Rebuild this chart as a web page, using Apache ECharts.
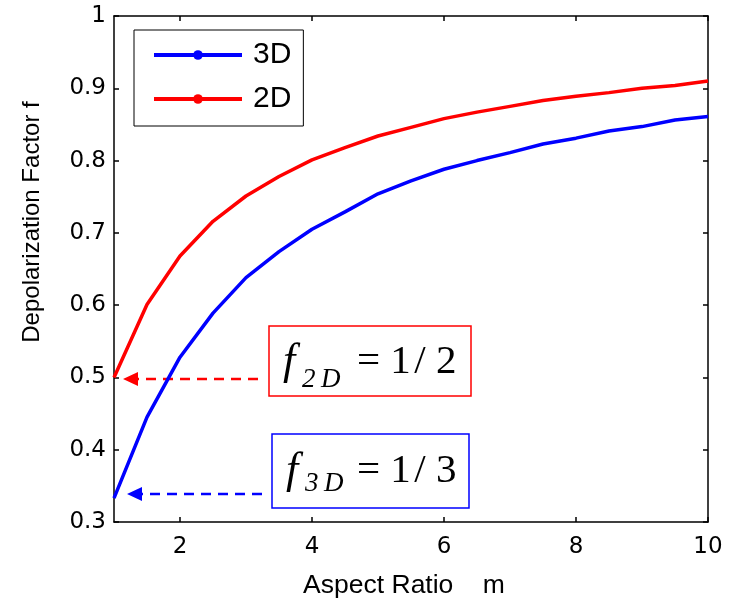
<!DOCTYPE html>
<html>
<head>
<meta charset="utf-8">
<script src="https://cdn.jsdelivr.net/npm/echarts@6/dist/echarts.min.js"></script>
<style>
  html, body { margin: 0; padding: 0; background: #fff; }
  #chart { width: 732px; height: 604px; }
</style>
</head>
<body>
<div id="chart"></div>
<script>
// Aspect ratio samples m and the depolarization factor f for each geometry
const aspectRatio = [1, 1.5, 2, 2.5, 3, 3.5, 4, 4.5, 5, 5.5, 6, 6.5, 7, 7.5, 8, 8.5, 9, 9.5, 10];
const factor3D = [0.333, 0.445, 0.528, 0.589, 0.638, 0.674, 0.705, 0.729, 0.754, 0.772,
                  0.788, 0.800, 0.811, 0.823, 0.831, 0.841, 0.847, 0.856, 0.861];
const factor2D = [0.500, 0.601, 0.668, 0.716, 0.751, 0.778, 0.801, 0.818, 0.834, 0.846,
                  0.858, 0.867, 0.875, 0.883, 0.889, 0.894, 0.900, 0.904, 0.910];
const seriesNames = ['3D', '2D'];
const xTickValues = [2, 4, 6, 8, 10];
const yTickValues = [0.3, 0.4, 0.5, 0.6, 0.7, 0.8, 0.9, 1];
const xAxisTitle = 'Aspect Ratio    m';
const yAxisTitle = 'Depolarization Factor f';

const BLUE = '#0000ff';
const RED = '#ff0000';
const AXIS_COLOR = '#000';

function pairs(xs, ys) { return xs.map((x, i) => [x, ys[i]]); }

const boxLine = { show: true, onZero: false, lineStyle: { color: AXIS_COLOR, width: 1.5 } };
const xTick = { show: true, inside: true, length: 5, customValues: xTickValues, lineStyle: { color: AXIS_COLOR, width: 1.5 } };
const yTick = { show: true, inside: true, length: 5, customValues: yTickValues, lineStyle: { color: AXIS_COLOR, width: 1.5 } };
const tickFont = { color: '#000', fontFamily: 'DejaVu Sans', fontSize: 23 };
const mathFont = 'Liberation Serif';

const chart = echarts.init(document.getElementById('chart'), null, { renderer: 'canvas' });

chart.setOption({
  backgroundColor: '#fff',
  animation: false,
  grid: { left: 114, right: 24, top: 16, bottom: 78, containLabel: false },
  legend: {
    orient: 'vertical',
    left: 134,
    top: 30,
    padding: [10, 12, 12, 18],
    itemGap: 14,
    itemWidth: 88,
    itemHeight: 12,
    borderColor: '#000',
    borderWidth: 1,
    backgroundColor: '#fff',
    lineStyle: { width: 4 },
    textStyle: { color: '#000', fontFamily: 'Liberation Sans', fontSize: 30, padding: [0, 0, 0, 6] },
    data: seriesNames
  },
  xAxis: [
    {
      type: 'value', min: 1, max: 10, position: 'bottom',
      axisLine: boxLine, axisTick: xTick,
      axisLabel: Object.assign({ customValues: xTickValues, margin: 14 }, tickFont),
      splitLine: { show: false },
      name: xAxisTitle, nameLocation: 'middle', nameGap: 50,
      nameTextStyle: { color: '#000', fontFamily: 'Liberation Sans', fontSize: 26.5, padding: [0, 14, 0, 0] }
    },
    {
      type: 'value', min: 1, max: 10, position: 'top',
      axisLine: boxLine, axisTick: xTick,
      axisLabel: { show: false }, splitLine: { show: false }
    }
  ],
  yAxis: [
    {
      type: 'value', min: 0.3, max: 1, interval: 0.1, position: 'left',
      axisLine: boxLine, axisTick: yTick,
      axisLabel: Object.assign({ customValues: yTickValues, margin: 8 }, tickFont),
      splitLine: { show: false },
      name: yAxisTitle, nameLocation: 'middle', nameGap: 70,
      nameTextStyle: { color: '#000', fontFamily: 'Liberation Sans', fontSize: 24, padding: [0, 0, 0, 94] }
    },
    {
      type: 'value', min: 0.3, max: 1, interval: 0.1, position: 'right',
      axisLine: boxLine, axisTick: yTick,
      axisLabel: { show: false }, splitLine: { show: false }
    }
  ],
  series: [
    {
      name: seriesNames[0], type: 'line', xAxisIndex: 0, yAxisIndex: 0,
      data: pairs(aspectRatio, factor3D),
      symbol: 'circle', symbolSize: 9, showSymbol: false,
      lineStyle: { color: BLUE, width: 3.5 }, itemStyle: { color: BLUE },
      z: 3
    },
    {
      name: seriesNames[1], type: 'line', xAxisIndex: 0, yAxisIndex: 0,
      data: pairs(aspectRatio, factor2D),
      symbol: 'circle', symbolSize: 9, showSymbol: false,
      lineStyle: { color: RED, width: 3.5 }, itemStyle: { color: RED },
      z: 3
    }
  ],
  graphic: [
    // f_2D = 1/2 callout
    { type: 'rect', shape: { x: 269, y: 326, width: 202, height: 70 },
      style: { fill: '#fff', stroke: RED, lineWidth: 1.5 } },
    { type: 'text', x: 283, y: 362,
      style: { text: 'f', fontFamily: mathFont, fontStyle: 'italic', fontSize: 44, fill: '#000', verticalAlign: 'middle' } },
    { type: 'text', x: 302, y: 380,
      style: { text: '2\u2009D', fontFamily: mathFont, fontStyle: 'italic', fontSize: 27, fill: '#000', verticalAlign: 'middle' } },
    { type: 'text', x: 357, y: 362,
      style: { text: '= 1\u200A/ 2', fontFamily: mathFont, fontSize: 41, fill: '#000', verticalAlign: 'middle' } },
    { type: 'polyline', shape: { points: [[258, 379], [137, 379]] },
      style: { stroke: RED, lineWidth: 2.5, lineDash: [10, 7], fill: null } },
    { type: 'polygon', shape: { points: [[123, 379], [138, 372], [138, 386]] },
      style: { fill: RED } },

    // f_3D = 1/3 callout
    { type: 'rect', shape: { x: 272, y: 434, width: 197, height: 74 },
      style: { fill: '#fff', stroke: BLUE, lineWidth: 1.5 } },
    { type: 'text', x: 286, y: 471,
      style: { text: 'f', fontFamily: mathFont, fontStyle: 'italic', fontSize: 44, fill: '#000', verticalAlign: 'middle' } },
    { type: 'text', x: 305, y: 484,
      style: { text: '3\u2009D', fontFamily: mathFont, fontStyle: 'italic', fontSize: 27, fill: '#000', verticalAlign: 'middle' } },
    { type: 'text', x: 357, y: 471,
      style: { text: '= 1\u200A/ 3', fontFamily: mathFont, fontSize: 41, fill: '#000', verticalAlign: 'middle' } },
    { type: 'polyline', shape: { points: [[262, 494], [142, 494]] },
      style: { stroke: BLUE, lineWidth: 2.5, lineDash: [10, 7], fill: null } },
    { type: 'polygon', shape: { points: [[127, 494], [142, 487], [142, 501]] },
      style: { fill: BLUE } }
  ]
});
</script>
</body>
</html>
